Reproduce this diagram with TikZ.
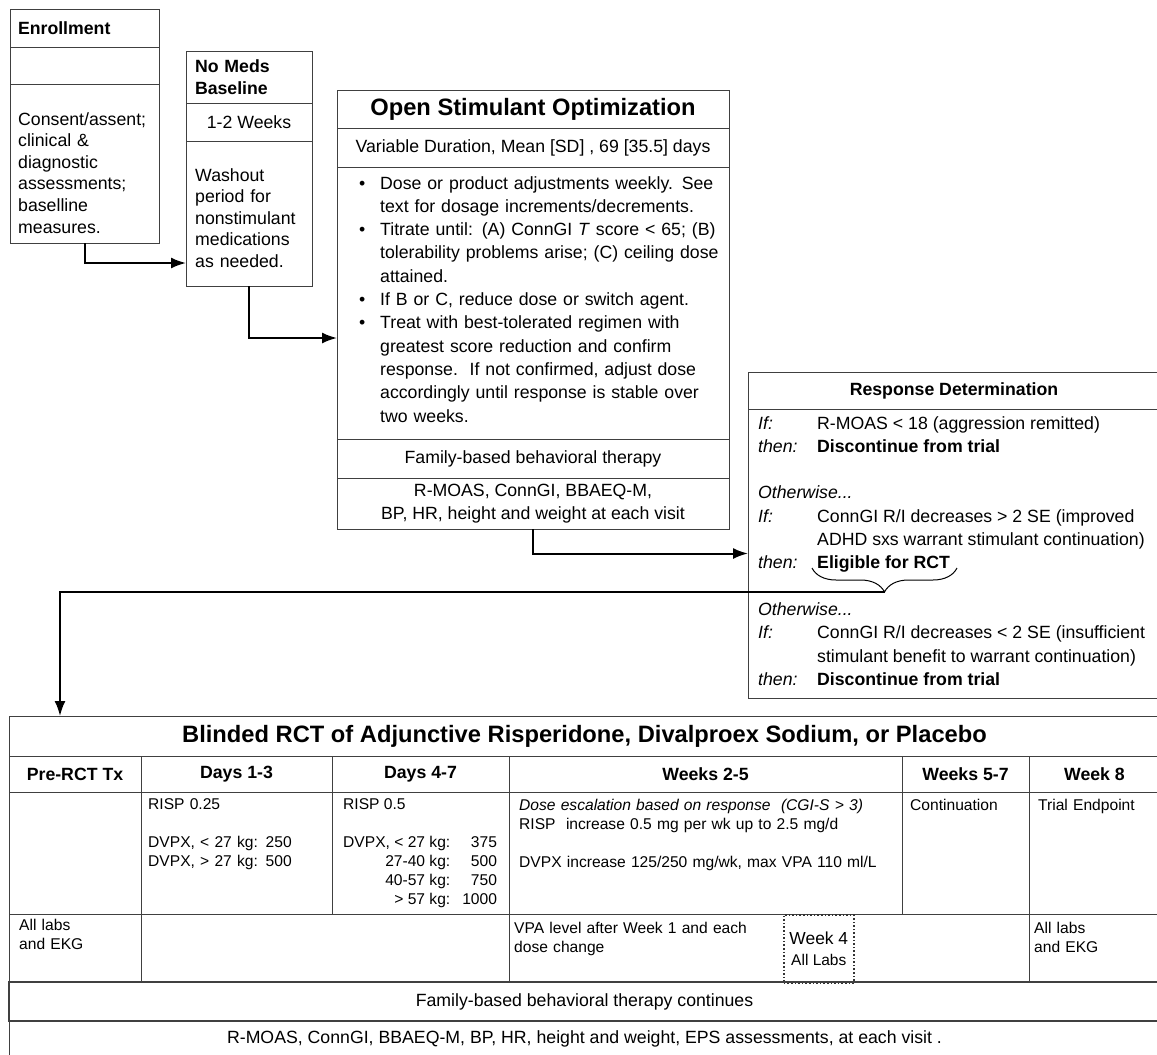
\documentclass[tikz,border=0pt]{standalone}
\usepackage{fontspec}
\setmainfont{Liberation Sans}
\usetikzlibrary{positioning,arrows.meta,decorations.pathreplacing}
\newcommand{\osbullet}{\makebox[21pt][l]{\textbullet}}
\newcommand{\osindent}{\hspace*{21pt}}
\tikzset{
  cell/.style     = {shape=rectangle, draw=black!75, line width=0.8pt,
                     inner sep=0pt, outer sep=0pt, anchor=north west,
                     font=\fontsize{17.7}{23}\selectfont},
  headcell/.style = {cell, font=\fontsize{17.7}{22}\selectfont\bfseries},
  bigtitle/.style = {cell, font=\fontsize{23.7}{28}\selectfont\bfseries},
  body/.style     = {anchor=base west, inner sep=0pt, align=left,
                     font=\fontsize{17.7}{21.6}\selectfont},
  tabtext/.style  = {body, font=\fontsize{15.6}{19}\selectfont},
  tabnode/.style  = {anchor=base west, inner sep=0pt},
  flow/.style     = {draw, line width=2pt, -{Latex[length=15pt,width=11pt]}},
  week4/.style    = {shape=rectangle, draw=black!80, dotted, line width=1.6pt,
                     fill=white, inner sep=0pt, anchor=north west, align=center}
}

\begin{document}
\begin{tikzpicture}
  [
    x = 1pt,
    y = -1pt
  ]
  \useasboundingbox (0,0) rectangle (1157,1055);

  \node[headcell, minimum width=149pt, minimum height=38pt, text width=133pt, align=left] (enrhead) at (10,9) {Enrollment};
  \node[cell, minimum width=149pt, minimum height=37pt, below=0pt of enrhead] (enrmid) {};
  \node[cell, minimum width=149pt, minimum height=159pt, below=0pt of enrmid] (enrbody) {};
  \node[body, text width=140pt] (enrtext) at (18,125) {Consent/assent;\\clinical \&\\diagnostic\\assessments;\\baselline\\measures.};

  \node[headcell, minimum width=126pt, minimum height=52pt, text width=108pt, align=left] (nmhead) at (186,51) {No Meds\\Baseline};
  \node[cell, minimum width=126pt, minimum height=38pt, below=0pt of nmhead] (nmweeks) {1-2 Weeks};
  \node[cell, minimum width=126pt, minimum height=145pt, below=0pt of nmweeks] (nmbody) {};
  \node[body, text width=115pt] (nmtext) at (195,181) {Washout\\period for\\nonstimulant\\medications\\as needed.};

  \node[bigtitle, minimum width=392pt, minimum height=38pt] (ostitle) at (337,90) {Open Stimulant Optimization};
  \node[cell, minimum width=392pt, minimum height=39pt, below=0pt of ostitle] (osdur) {Variable Duration, Mean [SD] , 69 [35.5] days};
  \node[cell, minimum width=392pt, minimum height=272pt, below=0pt of osdur] (osbody) {};
  \node[cell, minimum width=392pt, minimum height=39pt, below=0pt of osbody] (osfam) {Family-based behavioral therapy};
  \node[cell, minimum width=392pt, minimum height=51pt, align=center, below=0pt of osfam] (osmeas) {R-MOAS, ConnGI, BBAEQ-M,\\BP, HR, height and weight at each visit};
  \node[body, text width=365pt, font=\fontsize{17.7}{23.3}\selectfont] (ostext) at (359,189) {%
    \osbullet Dose or product adjustments weekly. See\\
    \osindent text for dosage increments/decrements.\\
    \osbullet Titrate until: (A) ConnGI \textit{T} score < 65; (B)\\
    \osindent tolerability problems arise; (C) ceiling dose\\
    \osindent attained.\\
    \osbullet If B or C, reduce dose or switch agent.\\
    \osbullet Treat with best-tolerated regimen with\\
    \osindent greatest score reduction and confirm\\
    \osindent response.\ \ If not confirmed, adjust dose\\
    \osindent accordingly until response is stable over\\
    \osindent two weeks.};

  \node[headcell, minimum width=412pt, minimum height=37pt] (rdtitle) at (748,372) {Response Determination};
  \node[cell, minimum width=412pt, minimum height=289pt, below=0pt of rdtitle] (rdbody) {};
  \node[tabnode, font=\fontsize{17.7}{23.3}\selectfont] (rdtext) at (758,429) {%
    \begin{tabular}[t]{@{}p{59pt}@{}l@{}}
      \textit{If:}   & R-MOAS < 18 (aggression remitted)\\
      \textit{then:} & \textbf{Discontinue from trial}\\
                     & \\
      \multicolumn{2}{@{}l@{}}{\textit{Otherwise...}}\\
      \textit{If:}   & ConnGI R/I decreases > 2 SE (improved\\
                     & ADHD sxs warrant stimulant continuation)\\
      \textit{then:} & \textbf{Eligible for RCT}\\
                     & \\
      \multicolumn{2}{@{}l@{}}{\textit{Otherwise...}}\\
      \textit{If:}   & ConnGI R/I decreases < 2 SE (insufficient\\
                     & stimulant benefit to warrant continuation)\\
      \textit{then:} & \textbf{Discontinue from trial}
    \end{tabular}};
  \coordinate (brR) at (957,568);
  \coordinate (brL) at (812,568);
  \draw[decorate, decoration={brace, amplitude=24pt}, line width=1pt] (brR) -- (brL);
  \coordinate (brtip) at (884.5,592);

  \node[bigtitle, minimum width=1151pt, minimum height=40pt] (rcttitle) at (9,716) {Blinded RCT of Adjunctive Risperidone, Divalproex Sodium, or Placebo};
  \node[headcell, minimum width=132pt, minimum height=36pt] (hdrpre) at (rcttitle.south west) {Pre-RCT Tx};
  \node[headcell, minimum width=191pt, minimum height=36pt, right=0pt of hdrpre] (hdrdA) {Days 1-3};
  \node[headcell, minimum width=177pt, minimum height=36pt, right=0pt of hdrdA] (hdrdB) {Days 4-7};
  \node[headcell, minimum width=393pt, minimum height=36pt, right=0pt of hdrdB] (hdrwA) {Weeks 2-5};
  \node[headcell, minimum width=127pt, minimum height=36pt, right=0pt of hdrwA] (hdrwB) {Weeks 5-7};
  \node[headcell, minimum width=131pt, minimum height=36pt, right=0pt of hdrwB] (hdrwC) {Week 8};

  \node[cell, minimum width=132pt, minimum height=122pt, below=0pt of hdrpre] (cpre) {};
  \node[cell, minimum width=191pt, minimum height=122pt, below=0pt of hdrdA] (cdA) {};
  \node[cell, minimum width=177pt, minimum height=122pt, below=0pt of hdrdB] (cdB) {};
  \node[cell, minimum width=393pt, minimum height=122pt, below=0pt of hdrwA] (cwA) {};
  \node[cell, minimum width=127pt, minimum height=122pt, below=0pt of hdrwB] (cwB) {};
  \node[cell, minimum width=131pt, minimum height=122pt, below=0pt of hdrwC] (cwC) {};

  \node[cell, minimum width=132pt, minimum height=68pt, below=0pt of cpre] (lpre) {};
  \node[cell, minimum width=368pt, minimum height=68pt, right=0pt of lpre] (lmid) {};
  \node[cell, minimum width=520pt, minimum height=68pt, right=0pt of lmid] (lweeks) {};
  \node[cell, minimum width=131pt, minimum height=68pt, right=0pt of lweeks] (lend) {};
  \node[week4, minimum width=70pt, minimum height=68pt, font=\fontsize{15.5}{21}\selectfont] (wk4) at (783,914) {{\fontsize{17.4}{21}\selectfont Week 4}\\All Labs};

  \node[cell, line width=1.3pt, minimum width=1151pt, minimum height=39pt] (famrow) at (lpre.south west) {Family-based behavioral therapy continues};
  \node[cell, minimum width=1151pt, minimum height=36pt, below=0pt of famrow] (measrow) {R-MOAS, ConnGI, BBAEQ-M, BP, HR, height and weight, EPS assessments, at each visit .};

  \node[tabtext, text width=175pt] (cdAtext) at (148,809) {RISP 0.25\\[19pt]DVPX, < 27 kg: 250\\DVPX, > 27 kg: 500};
  \node[tabnode, font=\fontsize{15.6}{19}\selectfont] (cdBtext) at (343,809) {%
    \begin{tabular}[t]{@{}r@{\hspace{12pt}}r@{}}
      \multicolumn{2}{@{}l@{}}{RISP 0.5}\\[19pt]
      DVPX, < 27 kg: & 375\\
      27-40 kg:      & 500\\
      40-57 kg:      & 750\\
      > 57 kg:       & 1000
    \end{tabular}};
  \node[tabtext, text width=380pt] (cwAtext) at (519,810) {\textit{Dose escalation based on response\ \ (CGI-S > 3)}\\RISP\ \ increase 0.5 mg per wk up to 2.5 mg/d\\[19pt]DVPX increase 125/250 mg/wk, max VPA 110 ml/L};
  \node[tabtext, text width=110pt] (cwBtext) at (910,810) {Continuation};
  \node[tabtext, text width=115pt] (cwCtext) at (1038,810) {Trial Endpoint};
  \node[tabtext, text width=115pt] (lpretext) at (19,930) {All labs\\and EKG};
  \node[tabtext, text width=260pt] (lweekstext) at (514,933) {VPA level after Week 1 and each\\dose change};
  \node[tabtext, text width=115pt] (lendtext) at (1034,933) {All labs\\and EKG};

  \draw[flow] (enrbody.south) |- ([shift={(0,-23)}]nmbody.south west);
  \draw[flow] (nmbody.south) |- ([shift={(0,171)}]osbody.north west);
  \draw[flow] (osmeas.south) |- (rdbody.west);
  \draw[flow] (brtip) -| ([shift={(51,0)}]rcttitle.north west);
\end{tikzpicture}
\end{document}
